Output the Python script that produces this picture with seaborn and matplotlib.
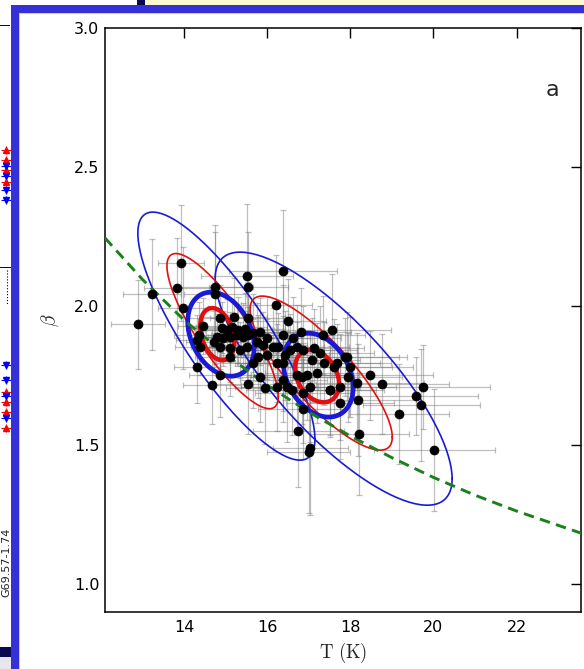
import numpy as np
import matplotlib
matplotlib.use("Agg")
import matplotlib.pyplot as plt
import seaborn as sns
import pandas as pd
from matplotlib.patches import Rectangle

# ---------------- data ----------------
T_K = [
    12.89, 13.23, 13.93, 13.83, 13.98, 14.75, 14.75, 15.52, 15.54, 16.39,
    16.22, 16.51, 16.82, 17.57, 14.67, 15.54, 15.95, 15.83, 16.75, 17.04,
    17.00, 18.19, 18.22, 16.87, 17.76, 18.17, 17.95, 17.35, 18.48, 18.77,
    19.76, 19.57, 19.71, 19.18, 20.02, 17.88, 17.52,
    14.45, 14.87, 15.20, 15.53, 14.91, 15.03, 15.15, 15.31, 15.47, 14.79,
    14.95, 15.11, 15.27, 15.43, 15.55, 15.67, 15.83, 15.99, 14.31, 14.39,
    14.71, 14.87, 15.11, 15.35, 15.51, 15.75, 15.91, 15.79, 15.67, 15.99,
    16.15, 16.27, 16.39, 16.63, 16.43, 16.23, 16.39, 16.55, 16.72, 16.87,
    17.12, 17.28, 17.08, 17.20, 16.96, 17.36, 17.60, 17.68, 17.92, 18.00,
    17.76, 17.52, 17.04, 16.87, 16.60, 16.72, 16.84, 16.39, 16.23, 16.47,
    14.35, 15.11, 14.87, 14.31]

beta = [
    1.935, 2.043, 2.155, 2.065, 1.993, 2.068, 2.043, 2.108, 2.068, 2.126,
    2.004, 1.946, 1.906, 1.914, 1.716, 1.719, 1.705, 1.745, 1.550, 1.489,
    1.475, 1.662, 1.540, 1.630, 1.651, 1.723, 1.745, 1.896, 1.752, 1.720,
    1.709, 1.676, 1.644, 1.612, 1.482, 1.817, 1.698,
    1.928, 1.956, 1.961, 1.956, 1.923, 1.914, 1.926, 1.914, 1.916, 1.890,
    1.884, 1.890, 1.896, 1.890, 1.896, 1.902, 1.908, 1.887, 1.878, 1.854,
    1.872, 1.854, 1.848, 1.842, 1.854, 1.872, 1.860, 1.818, 1.794, 1.824,
    1.854, 1.854, 1.896, 1.884, 1.824, 1.794, 1.794, 1.842, 1.854, 1.842,
    1.848, 1.830, 1.806, 1.758, 1.752, 1.794, 1.782, 1.794, 1.818, 1.782,
    1.710, 1.698, 1.710, 1.686, 1.698, 1.752, 1.746, 1.734, 1.710, 1.710,
    1.896, 1.818, 1.752, 1.782]

T_err = [
    0.65, 0.70, 0.55, 0.80, 0.60, 0.90, 0.75, 1.10, 0.95, 1.30,
    0.85, 0.90, 1.20, 1.40, 0.70, 0.80, 0.95, 1.00, 1.10, 0.90,
    1.00, 1.40, 1.20, 1.10, 1.30, 1.60, 1.30, 1.00, 1.50, 1.60,
    1.60, 1.50, 1.40, 1.20, 1.45, 1.30, 1.10,
    0.60, 0.75, 0.80, 0.90, 0.65, 0.70, 0.85, 0.80, 0.95, 0.55,
    0.60, 0.70, 0.75, 0.85, 0.90, 1.00, 0.95, 1.05, 0.50, 0.60,
    0.65, 0.70, 0.80, 0.85, 0.90, 1.00, 1.05, 0.95, 0.90, 1.10,
    1.00, 1.10, 1.20, 1.15, 1.05, 1.00, 1.10, 1.20, 1.25, 1.30,
    1.20, 1.30, 1.15, 1.25, 1.10, 1.35, 1.40, 1.30, 1.45, 1.50,
    1.35, 1.30, 1.20, 1.15, 1.10, 1.20, 1.25, 1.05, 1.00, 1.10,
    0.60, 0.85, 0.75, 0.55]

beta_err = [
    0.16, 0.20, 0.21, 0.18, 0.22, 0.20, 0.25, 0.26, 0.20, 0.22,
    0.18, 0.15, 0.16, 0.20, 0.14, 0.18, 0.20, 0.16, 0.20, 0.24,
    0.22, 0.20, 0.22, 0.18, 0.20, 0.18, 0.16, 0.14, 0.16, 0.18,
    0.15, 0.14, 0.20, 0.18, 0.22, 0.14, 0.16,
    0.10, 0.12, 0.14, 0.13, 0.09, 0.11, 0.10, 0.12, 0.13, 0.08,
    0.10, 0.09, 0.11, 0.12, 0.10, 0.14, 0.12, 0.15, 0.09, 0.10,
    0.11, 0.08, 0.12, 0.10, 0.13, 0.14, 0.12, 0.15, 0.16, 0.13,
    0.14, 0.12, 0.18, 0.15, 0.16, 0.14, 0.17, 0.13, 0.15, 0.16,
    0.14, 0.17, 0.15, 0.18, 0.16, 0.15, 0.17, 0.14, 0.16, 0.18,
    0.19, 0.17, 0.20, 0.18, 0.16, 0.19, 0.17, 0.15, 0.16, 0.20,
    0.12, 0.14, 0.15, 0.13]

# dashed green relation
fit_T = [12.1, 13.0, 14.0, 15.0, 16.0, 17.0, 18.0, 19.0, 20.0, 21.0, 22.0, 23.6]
fit_beta = [2.245, 2.096, 1.950, 1.826, 1.716, 1.619, 1.533, 1.455, 1.384, 1.320, 1.263, 1.181]

# contour ellipses: centre, half-extent in T and beta, correlation
cont_T0 = [15.02, 17.60, 14.93, 17.30, 14.89, 17.23, 14.80, 17.20]
cont_B0 = [1.892, 1.739, 1.910, 1.759, 1.899, 1.752, 1.899, 1.748]
cont_sT = [2.13, 2.85, 1.34, 1.71, 0.80, 0.84, 0.41, 0.53]
cont_sB = [0.446, 0.455, 0.279, 0.277, 0.151, 0.151, 0.094, 0.094]
cont_rho = [-0.83, -0.79, -0.84, -0.83, -0.30, -0.30, -0.30, -0.30]
cont_color = ["#1a1ad6", "#1a1ad6", "#e01010", "#e01010",
              "#1a1ad6", "#1a1ad6", "#e01010", "#e01010"]
cont_lw = [1.2, 1.2, 1.2, 1.2, 3.4, 3.4, 3.2, 3.2]

x_ticks = [14, 16, 18, 20, 22]
y_ticks = [1.0, 1.5, 2.0, 2.5, 3.0]

# fragments of the neighbouring window at the left edge
frag_red_y = [150, 160, 170, 182, 392, 402, 412, 428]
frag_blue_y = [166, 176, 190, 200, 365, 380, 396, 418]

# ---------------- drawing ----------------
sns.set_style("white")
plt.rcParams["mathtext.fontset"] = "cm"
plt.rcParams["font.family"] = ["DejaVu Sans"]

W, H = 584, 669
fig = plt.figure(figsize=(W / 100, H / 100), dpi=100)
fig.patch.set_facecolor("white")

ax = fig.add_axes([105 / W, 1 - 612 / H, (581 - 105) / W, (612 - 28) / H])
ax.set_facecolor("white")

ax.errorbar(T_K, beta, xerr=T_err, yerr=beta_err, fmt="none",
            ecolor="0.45", elinewidth=0.9, capsize=2.5, capthick=0.9,
            alpha=0.45, zorder=1)

t = np.linspace(0, 2 * np.pi, 200)
for i in range(len(cont_T0)):
    r = cont_rho[i]
    xs = cont_T0[i] + cont_sT[i] * np.cos(t)
    ys = cont_B0[i] + cont_sB[i] * (r * np.cos(t) + np.sqrt(1 - r * r) * np.sin(t))
    ax.plot(xs, ys, color=cont_color[i], lw=cont_lw[i], zorder=3)

df = pd.DataFrame({"T": T_K, "beta": beta})
sns.scatterplot(data=df, x="T", y="beta", ax=ax, color="black", s=42,
                edgecolor="black", linewidth=0.5, zorder=5, legend=False)

fit_df = pd.DataFrame({"T": fit_T, "beta": fit_beta})
sns.lineplot(data=fit_df, x="T", y="beta", ax=ax, color=(0.1, 0.5, 0.1),
             lw=2.1, zorder=4, legend=False)
ax.lines[-1].set_dashes((3.6, 2.2))

ax.set_xlim(12.1, 23.55)
ax.set_ylim(0.9, 3.0)
ax.set_xticks(x_ticks)
ax.set_xticklabels([str(v) for v in x_ticks])
ax.set_yticks(y_ticks)
ax.set_yticklabels([f"{v:.1f}" for v in y_ticks])
ax.tick_params(direction="in", top=True, right=True, length=7, width=1,
               labelsize=11.5, colors="black")
ax.tick_params(axis="x", pad=6)
ax.tick_params(axis="y", pad=4)
for s in ax.spines.values():
    s.set_visible(True)
    s.set_color("black")
    s.set_linewidth(1.1)

ax.set_xlabel(r"$\mathrm{T\ (K)}$", fontsize=13.5, labelpad=4)
ax.set_ylabel(r"$\beta$", fontsize=14, labelpad=9)
ax.text(0.939, 0.894, "a", transform=ax.transAxes, fontsize=16,
        ha="center", va="center")

# ---------------- window frame decorations ----------------
def px_rect(x0, y0, x1, y1, color):
    fig.patches.append(Rectangle((x0 / W, 1 - y1 / H), (x1 - x0) / W, (y1 - y0) / H,
                                 transform=fig.transFigure, facecolor=color,
                                 edgecolor="none", zorder=10))

px_rect(145, 0, W, 5, "#fcf8cf")
px_rect(137, 0, 145, 5, "#0a0a50")
px_rect(11, 5, W, 13, "#3630d8")
px_rect(11, 5, 19, H, "#3630d8")
px_rect(19, 13, 20, H, "#c9c6f2")
px_rect(20, 13, W, 14, "#c9c6f2")
px_rect(0, 647, 11, 657, "#0a0a50")
px_rect(0, 657, 11, H, "#e6e6ee")
px_rect(0, 25, 10, 26, "#111111")
px_rect(0, 267, 11, 268.5, "#111111")

frag = fig.add_axes([0, 0, 11 / W, 1])
frag.set_xlim(0, 11)
frag.set_ylim(H, 0)
frag.axis("off")
frag.errorbar([6] * len(frag_red_y), frag_red_y, xerr=5, yerr=4, fmt="^",
              color="red", ms=4, elinewidth=0.8, capsize=0)
frag.errorbar([6] * len(frag_blue_y), frag_blue_y, xerr=5, yerr=4, fmt="v",
              color="blue", ms=4, elinewidth=0.8, capsize=0)
frag.plot([7, 7], [270, 305], color="black", lw=0.8, linestyle=":")
fig.text(1 / W, 1 - 562 / H, "G69.57-1.74", rotation=90, fontsize=8,
         ha="left", va="center", color="#222222")

fig.savefig("out.png", dpi=100, facecolor="white")
